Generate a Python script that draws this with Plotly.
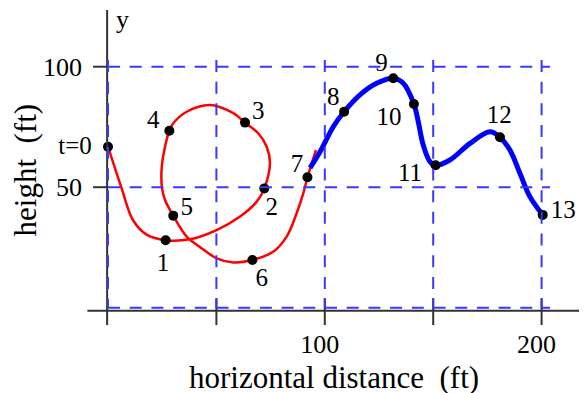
import plotly.graph_objects as go

# ---------------- data (ft) ----------------
# red part of the path (t = 0 .. 7)
red_x = [0, 6.3, 11.5, 18.0, 26.6, 37.8, 50.1, 60.9, 68.6, 72.1, 74.7, 73.2, 69.3,
         63.2, 57.8, 47.0, 36.3, 30.1, 28.3, 26.3, 24.8, 24.9, 26.3, 30.1, 36.3,
         42.4, 50.1, 57.8, 66.6, 76.2, 82.4, 87.0, 90.1, 92.0, 95.9]
red_y = [66.8, 49.5, 36.4, 30.2, 28.0, 28.4, 32.2, 37.8, 44.0, 49.5, 59.9, 66.8, 72.4,
         76.8, 80.7, 84.1, 81.3, 76.5, 73.4, 66.8, 58.5, 49.7, 44.7, 38.2, 29.5,
         25.2, 20.5, 18.8, 19.8, 23.2, 29.5, 39.2, 47.5, 54.1, 65.4]

# blue part of the path (t = 7 .. 13)
blue_x = [93.2, 97.8, 103.9, 108.9, 116.2, 123.9, 131.6, 136.2, 141.1, 143.1, 145.4,
          148.5, 151.1, 157.7, 167.0, 176.2, 180.8, 185.4, 190.0, 194.6, 200.5]
blue_y = [58.0, 64.7, 75.1, 81.3, 88.3, 93.1, 95.2, 93.1, 84.5, 77.2, 67.5,
          60.6, 59.1, 61.3, 68.2, 73.0, 70.7, 65.4, 55.8, 46.1, 38.5]

# labelled time points
pt_x = [0, 26.6, 72.1, 63.2, 28.3, 30.1, 66.6, 92.0, 108.9, 131.6, 141.1, 151.1, 180.8, 200.5]
pt_y = [66.8, 28.0, 49.5, 76.8, 73.4, 38.2, 19.8, 54.1, 81.3, 95.2, 84.5, 59.1, 70.7, 38.5]
pt_text = ["t=0", "1", "2", "3", "4", "5", "6", "7", "8", "9", "10", "11", "12", "13"]
lab_x = [-15.2, 25.4, 75.5, 69.3, 20.9, 36.3, 70.9, 87.2, 103.9, 126.2, 129.6, 139.3, 180.5, 210.0]
lab_y = [66.3, 17.7, 41.2, 80.7, 77.2, 41.2, 11.5, 58.8, 86.9, 100.7, 78.6, 55.1, 79.3, 39.8]

# axes / grid
grid_x = [0, 50, 100, 150, 200]
grid_y = [0, 50, 100]
xtick_vals = [100, 200]
xtick_text = ["100", "200"]
ytick_vals = [50, 100]
ytick_text = ["50", "100"]

FONT = "Liberation Serif"
AX = "#333333"
GRID = "#3838ff"
DASH = "12px,9.7px"

# the page body has an 8px margin, so the figure is 8px smaller than the window
W, H = 579, 385
OX, OY = 100.0, 299.7          # pixel position of the origin inside the figure
SX, SY = 2.168, 2.41           # pixels per foot
xr = [(0 - OX) / SX, (W - OX) / SX]
yr = [(OY - H) / SY, (OY - 0) / SY]

fig = go.Figure()

shapes = []
# black axes
shapes.append(dict(type="line", xref="x", yref="y", x0=-0.4, x1=-0.4, y0=-7.2, y1=123.5,
                   line=dict(color=AX, width=2)))
shapes.append(dict(type="line", xref="x", yref="y", x0=-9.5, x1=221, y0=-1.25, y1=-1.25,
                   line=dict(color=AX, width=2)))
for gx in grid_x[1:]:
    shapes.append(dict(type="line", xref="x", yref="y", x0=gx, x1=gx, y0=4.0, y1=-7.2,
                       line=dict(color=AX, width=2)))
for gy in ytick_vals:
    shapes.append(dict(type="line", xref="x", yref="y", x0=-6.9, x1=-0.4, y0=gy, y1=gy,
                       line=dict(color=AX, width=2)))
# dashed grid
for gx in grid_x:
    shapes.append(dict(type="line", xref="x", yref="y", x0=gx, x1=gx, y0=102.8, y1=0,
                       line=dict(color=GRID, width=2, dash=DASH)))
for gy in grid_y:
    shapes.append(dict(type="line", xref="x", yref="y", x0=0, x1=203.9, y0=gy, y1=gy,
                       line=dict(color=GRID, width=2, dash=DASH)))

fig.add_trace(go.Scatter(x=red_x, y=red_y, mode="lines",
                         line=dict(color="#ff0000", width=2.5, shape="spline", smoothing=1),
                         hoverinfo="skip", showlegend=False))
fig.add_trace(go.Scatter(x=blue_x, y=blue_y, mode="lines",
                         line=dict(color="#0000ff", width=5, shape="spline", smoothing=1),
                         hoverinfo="skip", showlegend=False))
fig.add_trace(go.Scatter(x=pt_x, y=pt_y, mode="markers",
                         marker=dict(color="black", size=10),
                         hoverinfo="skip", showlegend=False))
fig.add_trace(go.Scatter(x=lab_x, y=lab_y, mode="text", text=pt_text,
                         textposition="middle center",
                         textfont=dict(family=FONT, size=25, color="black"),
                         hoverinfo="skip", showlegend=False))

annotations = [
    dict(x=104.2, y=-29.1, xref="x", yref="y", text="horizontal distance&nbsp;&nbsp;(ft)",
         showarrow=False, xanchor="center", yanchor="middle",
         font=dict(family=FONT, size=31, color="black")),
    dict(x=-38.1, y=57.1, xref="x", yref="y", text="height&nbsp;&nbsp;(ft)", textangle=-90,
         showarrow=False, xanchor="center", yanchor="middle",
         font=dict(family=FONT, size=31, color="black")),
    dict(x=6.9, y=119.5, xref="x", yref="y", text="y", showarrow=False,
         xanchor="center", yanchor="middle", font=dict(family=FONT, size=26, color="black")),
    dict(x=217.5, y=3.9, xref="x", yref="y", text="x", showarrow=False,
         xanchor="left", yanchor="middle", font=dict(family=FONT, size=26, color="black")),
]

fig.update_layout(
    width=W, height=H,
    margin=dict(l=0, r=0, t=0, b=0, autoexpand=False),
    paper_bgcolor="white", plot_bgcolor="white",
    shapes=shapes, annotations=annotations,
    xaxis=dict(range=xr, showgrid=False, zeroline=False, showline=False, ticks="",
               tickvals=xtick_vals, ticktext=xtick_text, anchor="free",
               position=(H - 318) / H, ticklabelshift=-5, automargin=False,
               tickfont=dict(family=FONT, size=26, color="black"), fixedrange=True),
    yaxis=dict(range=yr, showgrid=False, zeroline=False, showline=False, ticks="",
               tickvals=ytick_vals, ticktext=ytick_text, anchor="free",
               position=74 / W, automargin=False,
               tickfont=dict(family=FONT, size=26, color="black"), fixedrange=True),
)

fig.write_html("out.html")
